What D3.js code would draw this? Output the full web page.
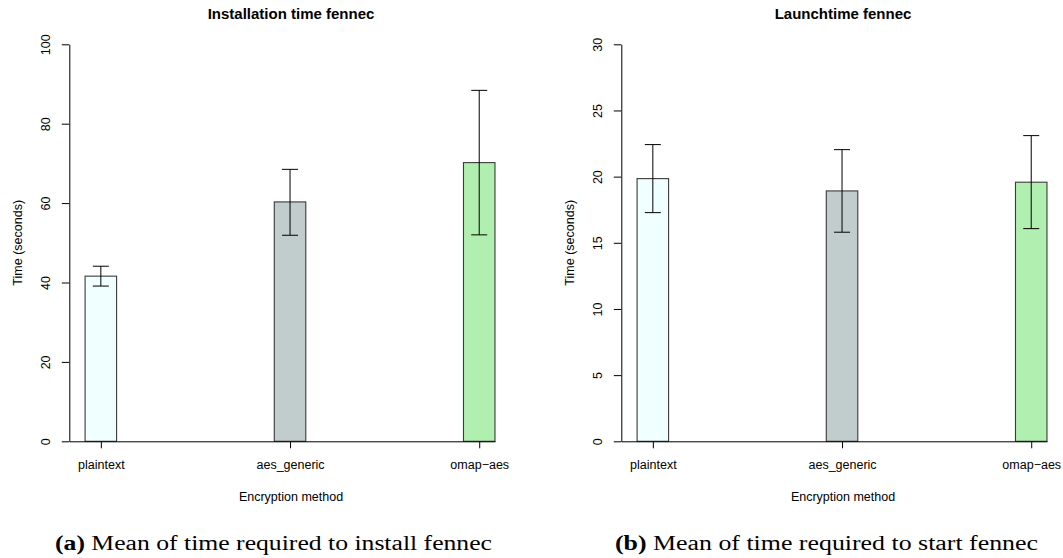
<!DOCTYPE html>
<html lang="en">
<head>
	<meta charset="UTF-8">
	<title>fennec timings</title>
	<script type="text/javascript" src="https://cdn.jsdelivr.net/npm/d3@7/dist/d3.min.js"></script>
	<style>
		body { margin: 0; background: #fff; }
		text { font-family: "Liberation Sans", Arial, sans-serif; fill: #000; }
		text.caption { font-family: "Liberation Serif", "Times New Roman", serif; }
	</style>
</head>
<body>

<script type="text/javascript">
	var methods = ['plaintext', 'aes_generic', 'omap\u2212aes'];
	var fills = ['#f0ffff', '#c1cdcd', '#b0efb0'];

	var installMean = [41.6, 60.3, 70.2];
	var installLow = [39.1, 51.9, 52.0];
	var installHigh = [44.1, 68.5, 88.4];
	var installTicks = [0, 20, 40, 60, 80, 100];

	var launchMean = [19.85, 18.92, 19.58];
	var launchLow = [17.28, 15.8, 16.07];
	var launchHigh = [22.42, 22.04, 23.1];
	var launchTicks = [0, 5, 10, 15, 20, 25, 30];

	window.onload = function () {

		var svg = d3.select('body')
			.append('svg')
			.attr('width', 1063)
			.attr('height', 558);

		var top = 44.3, bottom = 441.3;
		var plotW = 425.7;   // y axis to right edge of last bar
		var barW = 31.5;

		function panel(left, title, ticks, means, lows, highs) {
			var g = svg.append('g')
				.attr('transform', 'translate(' + left + ',0)');

			// bar units: centers at 1, 7, 13 (space = 5)
			var x = d3.scaleLinear().domain([0, 13.5]).range([0, plotW]);
			var center = function (i) { return x(1 + 6 * i); };
			var y = d3.scaleLinear().domain([0, d3.max(ticks)]).range([bottom, top]);

			var data = means.map(function (m, i) {
				return {name: methods[i], mean: m, lo: lows[i], hi: highs[i], fill: fills[i], i: i};
			});

			g.selectAll('.bar')
				.data(data)
				.enter().append('rect')
				.attr('class', 'bar')
				.attr('x', function (d) { return center(d.i) - barW / 2; })
				.attr('width', barW)
				.attr('y', function (d) { return y(d.mean); })
				.attr('height', function (d) { return bottom - y(d.mean); })
				.style('fill', function (d) { return d.fill; })
				.style('stroke', '#3a3a3a')
				.style('stroke-width', 1.1);

			// error bars
			var err = g.selectAll('.err')
				.data(data)
				.enter().append('g')
				.attr('class', 'err')
				.style('stroke', '#000')
				.style('stroke-width', 1);
			err.append('line')
				.attr('x1', function (d) { return center(d.i); })
				.attr('x2', function (d) { return center(d.i); })
				.attr('y1', function (d) { return y(d.lo); })
				.attr('y2', function (d) { return y(d.hi); });
			err.append('line')
				.attr('x1', function (d) { return center(d.i) - 8; })
				.attr('x2', function (d) { return center(d.i) + 8; })
				.attr('y1', function (d) { return y(d.hi); })
				.attr('y2', function (d) { return y(d.hi); });
			err.append('line')
				.attr('x1', function (d) { return center(d.i) - 8; })
				.attr('x2', function (d) { return center(d.i) + 8; })
				.attr('y1', function (d) { return y(d.lo); })
				.attr('y2', function (d) { return y(d.lo); });

			// y axis with rotated labels like R's default las=0
			var yAxis = g.append('g')
				.call(d3.axisLeft(y).tickValues(ticks).tickSize(7.5).tickSizeOuter(0)
					.tickFormat(d3.format('d')));
			yAxis.selectAll('path, line').style('stroke', '#000');
			yAxis.selectAll('text')
				.attr('transform', 'rotate(-90)')
				.attr('x', 0)
				.attr('y', -19.3)
				.attr('dy', 0)
				.style('text-anchor', 'middle')
				.style('font-size', '12.5px')
				.style('font-family', '"Liberation Sans", Arial, sans-serif');

			// x axis runs from the y axis to the last bar's edge
			var xAxis = g.append('g')
				.attr('transform', 'translate(0,' + bottom + ')')
				.call(d3.axisBottom(x).tickValues([1, 7, 13]).tickSize(7).tickSizeOuter(0)
					.tickFormat(function (d, i) { return methods[i]; }));
			xAxis.selectAll('path, line').style('stroke', '#000');
			xAxis.selectAll('text')
				.attr('y', 28)
				.attr('dy', 0)
				.style('font-size', '12.5px')
				.style('font-family', '"Liberation Sans", Arial, sans-serif');

			var mid = 221.7;
			g.append('text')
				.attr('x', mid)
				.attr('y', 19)
				.style('text-anchor', 'middle')
				.style('font-weight', 'bold')
				.style('font-size', '15px')
				.text(title);

			g.append('text')
				.attr('x', mid)
				.attr('y', 501)
				.style('text-anchor', 'middle')
				.style('font-size', '12.5px')
				.text('Encryption method');

			g.append('text')
				.attr('transform', 'translate(-47.8,' + (top + bottom) / 2 + ') rotate(-90)')
				.style('text-anchor', 'middle')
				.style('font-size', '12.5px')
				.text('Time (seconds)');
		}

		panel(69.3, 'Installation time fennec', installTicks, installMean, installLow, installHigh);
		panel(621.3, 'Launchtime fennec', launchTicks, launchMean, launchLow, launchHigh);

		// subfigure captions
		var captions = [
			{tag: '(a)', text: ' Mean of time required to install fennec', x: 55, w: 437},
			{tag: '(b)', text: ' Mean of time required to start fennec', x: 615, w: 423}
		];
		captions.forEach(function (c) {
			var t = svg.append('text')
				.attr('class', 'caption')
				.attr('x', c.x)
				.attr('y', 550)
				.attr('textLength', c.w)
				.attr('lengthAdjust', 'spacingAndGlyphs')
				.style('font-size', '20px');
			t.append('tspan').style('font-weight', 'bold').text(c.tag);
			t.append('tspan').text(c.text);
		});
	};
</script>
</body>
</html>
